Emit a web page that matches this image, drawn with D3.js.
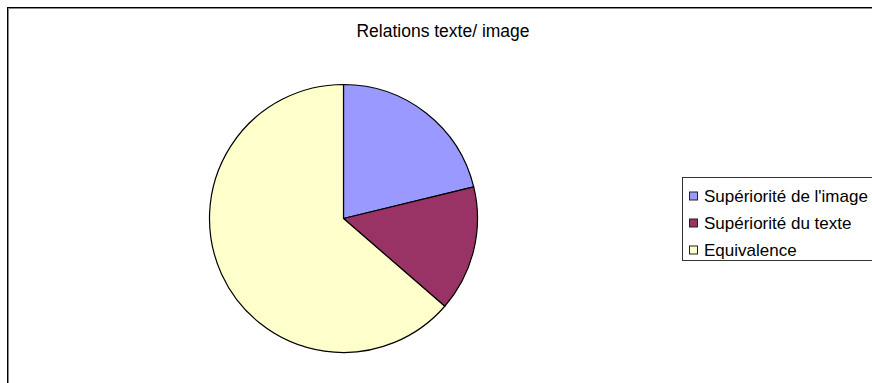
<!DOCTYPE html>
<html lang="fr">
<head>
    <meta charset="UTF-8">
    <script src="https://d3js.org/d3.v7.min.js"></script>
    <title>Relations texte/ image</title>
    <style>
        body { margin: 0; background: #fff; }
        text { font-family: "Liberation Sans", Arial, sans-serif; fill: #000; }
    </style>
</head>
<body>
    <div id="chart"></div>
    <script>

        const categories = ["Supériorité de l'image", "Supériorité du texte", "Equivalence"];
        const values = [7, 5, 21];
        const colors = ["#9999FF", "#993366", "#FFFFCC"];
        const title = "Relations texte/ image";

        const width = 872, height = 383;

        const svg = d3.select("#chart")
            .append("svg")
            .attr("width", width)
            .attr("height", height);

        // chart frame (runs off the right and bottom edges)
        svg.append("rect")
            .attr("x", 8.5).attr("y", 8.5)
            .attr("width", 900).attr("height", 400)
            .attr("fill", "none")
            .attr("stroke", "#888")
            .attr("stroke-width", 1);
        svg.append("rect")
            .attr("x", 7.5).attr("y", 7.5)
            .attr("width", 900).attr("height", 400)
            .attr("fill", "none")
            .attr("stroke", "#000")
            .attr("stroke-width", 1);

        svg.append("text")
            .attr("x", 443)
            .attr("y", 37)
            .attr("text-anchor", "middle")
            .style("font-size", "17.5px")
            .text(title);

        const data = categories.map((c, i) => ({ name: c, value: values[i], color: colors[i] }));

        const pie = d3.pie().value(d => d.value).sort(null);
        const arc = d3.arc().innerRadius(0).outerRadius(134);

        const g = svg.append("g")
            .attr("transform", "translate(343.5,218.5)");

        g.selectAll("path")
            .data(pie(data))
            .join("path")
            .attr("d", arc)
            .attr("fill", d => d.data.color)
            .attr("stroke", "#000")
            .attr("stroke-width", 1.2)
            .attr("stroke-linejoin", "round");

        // legend
        const legend = svg.append("g");
        legend.append("rect")
            .attr("x", 682.5).attr("y", 177.5)
            .attr("width", 300).attr("height", 83)
            .attr("fill", "#fff")
            .attr("stroke", "#333")
            .attr("stroke-width", 1);

        const rowY = d3.scalePoint()
            .domain(categories)
            .range([196, 250]);

        const item = legend.selectAll("g.item")
            .data(data)
            .join("g")
            .attr("class", "item")
            .attr("transform", d => `translate(0,${rowY(d.name)})`);

        item.append("rect")
            .attr("x", 689.5).attr("y", -4)
            .attr("width", 8).attr("height", 8)
            .attr("fill", d => d.color)
            .attr("stroke", "#222")
            .attr("stroke-width", 1);

        item.append("text")
            .attr("x", 704)
            .attr("y", 0)
            .attr("dy", "0.36em")
            .style("font-size", "17px")
            .text(d => d.name);

    </script>
</body>
</html>
